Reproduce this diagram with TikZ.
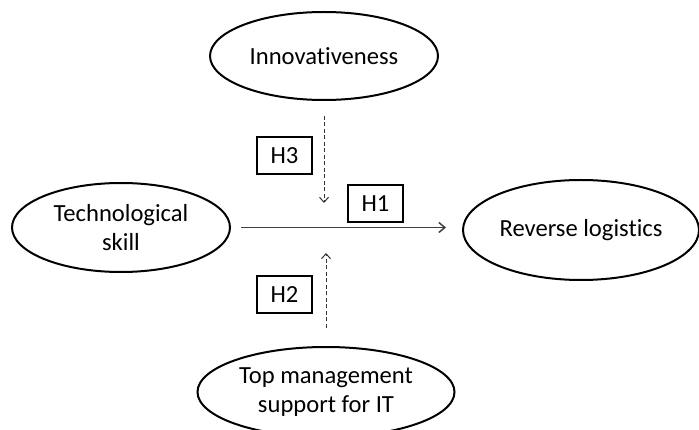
\documentclass[tikz,border=0pt]{standalone}
\usepackage{fontspec}
\setmainfont{Carlito}[Ligatures={NoCommon}]
\usetikzlibrary{shapes.geometric,arrows.meta}
\begin{document}
\begin{tikzpicture}[x=1pt,y=-1pt,
  var/.style={ellipse,draw=black,line width=2pt,inner sep=0pt,align=center,font=\fontsize{24.6}{29.5}\selectfont},
  hbox/.style={rectangle,draw=black,line width=2pt,inner sep=0pt,minimum width=55pt,minimum height=37pt,font=\fontsize{24.6}{29}\selectfont},
  mainarr/.style={draw=black!75,line width=1.5pt,-{Straight Barb[length=6pt,width=10pt]}},
  modarr/.style={draw=black!80,line width=1pt,dash pattern=on 4pt off 2.5pt,-{Straight Barb[length=5pt,width=9pt]}}]
\useasboundingbox (0,0) rectangle (699,430);
\clip (0,0) rectangle (699,430);
\node[var,minimum width=228pt,minimum height=88pt] (innov) at (324,56) {Innovativeness};
\node[var,minimum width=218pt,minimum height=89pt] (tech) at (121,227.5) {Technological\\skill};
\node[var,minimum width=236pt,minimum height=100pt] (rl) at (581,230) {Reverse logistics};
\node[var,minimum width=257pt,minimum height=90pt] (top) at (326,392) {Top management\\support for IT};
\node[hbox] (h3) at (284.5,155.5) {H3};
\node[hbox] (h1) at (375.5,203.5) {H1};
\node[hbox] (h2) at (284.5,295) {H2};
\coordinate (m3) at (324,203);
\coordinate (m2) at (326,253);
\draw[mainarr,shorten <=10pt,shorten >=16pt] (tech.east) -- (rl.west |- tech.east);
\draw[modarr,shorten <=15pt] (innov.south) -- (m3);
\draw[modarr,shorten <=18pt] (top.north) -- (m2);
\end{tikzpicture}
\end{document}
